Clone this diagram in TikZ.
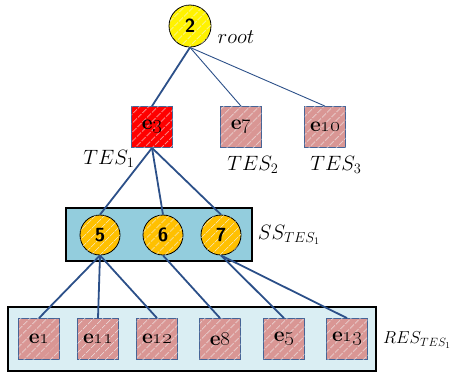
\documentclass[tikz,border=0pt]{standalone}
\usetikzlibrary{patterns.meta}
\definecolor{edgeblue}{RGB}{44,80,137}
\definecolor{sqborder}{RGB}{70,100,150}
\definecolor{pinkfill}{RGB}{217,150,148}
\definecolor{orangefill}{RGB}{255,192,0}
\definecolor{ssblue}{RGB}{147,205,221}
\definecolor{resblue}{RGB}{218,238,243}
\tikzset{
  stripes/.style={postaction={pattern={Lines[angle=45,distance=6.5pt,line width=0.7pt]},pattern color=white!90!gray}},
  sq/.style={draw=sqborder, line width=0.8pt, minimum size=41pt, inner sep=0pt, fill=pinkfill, stripes,
             font=\fontsize{21}{24}\selectfont\bfseries},
  redsq/.style={sq, fill=red},
  circ/.style={circle, draw=black, line width=0.8pt, minimum size=40pt, inner sep=0pt, fill=orangefill, stripes,
               font=\fontsize{19}{22}\selectfont\sffamily\bfseries},
  rootc/.style={circ, minimum size=42pt, fill=yellow},
  bigbox/.style={draw=black, line width=1.8pt},
  edge/.style={draw=edgeblue, line width=1.8pt},
  thinedge/.style={draw=edgeblue, line width=0.9pt},
  lab/.style={font=\fontsize{20}{24}\selectfont, inner sep=0pt}
}
\begin{document}
\begin{tikzpicture}[x=1pt,y=-1pt]
\useasboundingbox (0,0) rectangle (452,373);
% container boxes
\draw[bigbox, fill=ssblue] (66,208) rectangle (252,261);
\draw[bigbox, fill=resblue] (8,307) rectangle (376,371);
% nodes
\node[rootc] (root) at (190,26) {2};
\node[redsq] (e3) at (152,127) {e\oldstylenums{3}};
\node[sq] (e7) at (241,127) {e\oldstylenums{7}};
\node[sq] (e10) at (325,127) {e\oldstylenums{10}};
\node[circ] (c5) at (100,235) {5};
\node[circ] (c6) at (163,235) {6};
\node[circ] (c7) at (221,235) {7};
\node[sq] (e1) at (39,339) {e\oldstylenums{1}};
\node[sq] (e11) at (98,339) {e\oldstylenums{11}};
\node[sq] (e12) at (157,339) {e\oldstylenums{12}};
\node[sq] (e8) at (220,339) {e\oldstylenums{8}};
\node[sq] (e5) at (284,339) {e\oldstylenums{5}};
\node[sq] (e13) at (347,339) {e\oldstylenums{13}};
% labels
\node[lab] (lroot) at (236,37) {$root$};
\node[lab] (ltes1) at (109,159) {$TES_1$};
\node[lab] (ltes2) at (253,165) {$TES_2$};
\node[lab] (ltes3) at (336,165) {$TES_3$};
\node[lab] (lss) at (289,235) {$SS_{TES_1}$};
\node[lab, anchor=west, font=\fontsize{18}{22}\selectfont] (lres) at (383,340) {$RES_{TES_1}$};
% edges
\draw[edge] (root.south) -- (e3.north);
\draw[thinedge] (root.south) -- (e7.north);
\draw[thinedge] (root.south) -- (e10.north);
\draw[edge] (e3.south) -- (c5.north);
\draw[edge] (e3.south) -- (c6.north);
\draw[edge] (e3.south) -- (c7.north);
\draw[edge] (c5.south) -- (e1.north);
\draw[edge] (c5.south) -- (e11.north);
\draw[edge] (c5.south) -- (e12.north);
\draw[edge] (c6.south) -- (e8.north);
\draw[edge] (c7.south) -- (e5.north);
\draw[edge] (c7.south) -- (e13.north);
\end{tikzpicture}
\end{document}
